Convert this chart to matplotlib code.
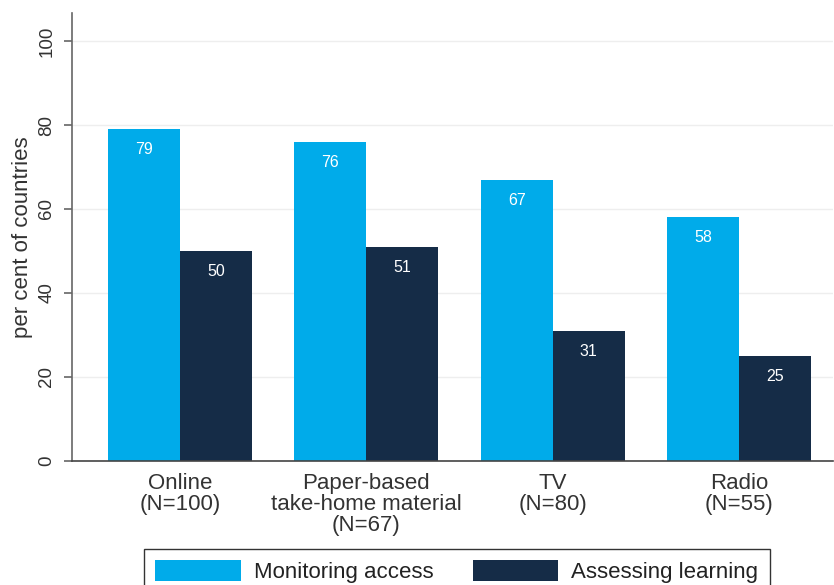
import numpy as np
import matplotlib.pyplot as plt

plt.rcParams['font.family'] = ['Liberation Sans', 'DejaVu Sans']

categories = ['Online\n(N=100)', 'Paper-based\ntake-home material\n(N=67)', 'TV\n(N=80)', 'Radio\n(N=55)']
monitoring = [79, 76, 67, 58]
assessing = [50, 51, 31, 25]
series_names = ['Monitoring access', 'Assessing learning']

light = '#00ABEA'
dark = '#152C47'

fig = plt.figure(figsize=(8.34, 5.85), dpi=100)
ax = fig.add_axes([0.0863, 0.212, 0.9127, 0.766])

x = np.arange(len(categories))
w = 0.386
b1 = ax.bar(x - w / 2, monitoring, w, color=light, label=series_names[0], zorder=2)
b2 = ax.bar(x + w / 2, assessing, w, color=dark, label=series_names[1], zorder=2)

# value labels inside the bars, near the top
for bars, vals in [(b1, monitoring), (b2, assessing)]:
    for r, v in zip(bars, vals):
        ax.text(r.get_x() + r.get_width() / 2, v - 4.9, str(v), ha='center', va='center',
                color='white', fontsize=11.5)

ax.set_xlim(-0.58, 3.505)
ax.set_ylim(0, 106.7)
ax.set_yticks([0, 20, 40, 60, 80, 100])
ax.set_yticklabels(['0', '20', '40', '60', '80', '100'], rotation=90, va='center')
ax.set_xticks(x)
ax.set_xticklabels(categories, fontsize=16, color='#333333', linespacing=1.0)
ax.tick_params(axis='x', length=0, pad=8.5)
ax.tick_params(axis='y', labelsize=13.5, labelcolor='#333333', length=6, width=1.2, color='#666666', pad=6)
ax.set_ylabel('per cent of countries', fontsize=16, color='#333333', labelpad=4)

ax.grid(axis='y', color='#eeeeee', linewidth=1, zorder=0)
ax.spines['top'].set_visible(False)
ax.spines['right'].set_visible(False)
ax.spines['left'].set_color('#666666')
ax.spines['bottom'].set_color('#444444')
ax.spines['left'].set_linewidth(1.2)
ax.spines['bottom'].set_linewidth(1.2)

leg = fig.legend(handles=[b1, b2], labels=series_names, loc='upper left',
                 bbox_to_anchor=(0.1727, 0.0615), ncol=2,
                 fontsize=16, handlelength=3.85, handleheight=1.05, handletextpad=0.6,
                 columnspacing=1.75, borderpad=0.5, borderaxespad=0,
                 fancybox=False, framealpha=1)
leg.get_frame().set_edgecolor('#333333')
leg.get_frame().set_linewidth(1.0)
for t in leg.get_texts():
    t.set_color('#222222')

fig.savefig('out.png', dpi=100)
